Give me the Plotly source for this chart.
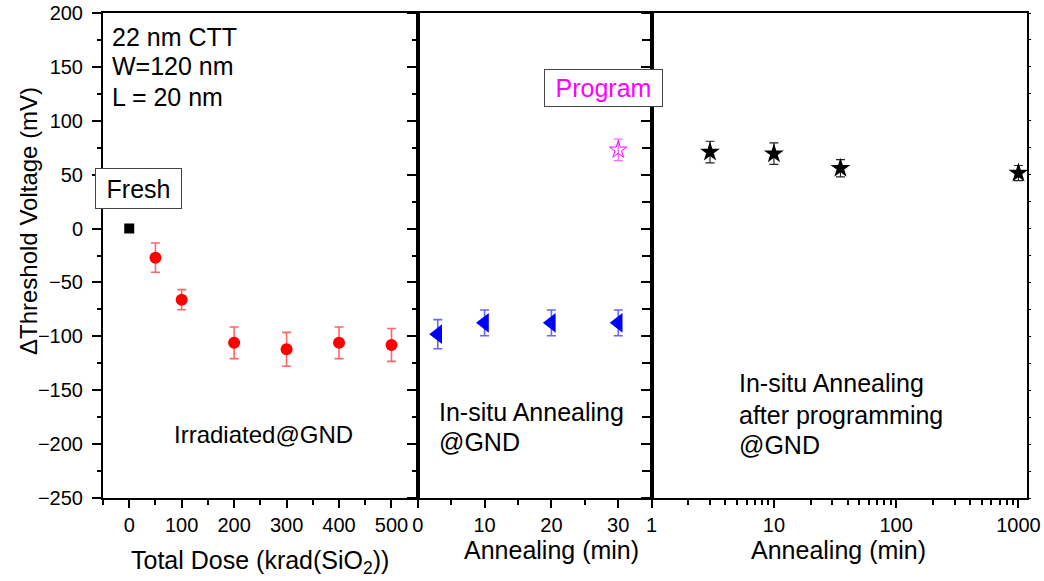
import numpy as np
import plotly.graph_objects as go

FONT = "Liberation Sans, Arial, sans-serif"

# ---- data -------------------------------------------------------------
fresh_dose = [0]
fresh_dvth = [0]

dose = [50, 100, 200, 300, 400, 500]
dvth_irr = [-27, -66, -106, -112, -106, -108]
err_irr = [13.6, 9.3, 14.7, 15.7, 14.7, 15.2]

anneal_t = [3, 10, 20, 30]
dvth_anneal = [-98, -87.5, -87.5, -87.5]
err_anneal = [13.5, 12, 12, 12]

prog_t = [30]
dvth_prog = [73]
err_prog = [10]

post_t = [3, 10, 35, 1000]
dvth_post = [71, 69.5, 56, 51.5]
err_post = [10, 10, 8, 7]

# tick labels
dose_ticks = [0, 100, 200, 300, 400, 500]
anneal_ticks = [0, 10, 20, 30]
log_ticks = [1, 10, 100, 1000]
log_minor = [m * d for d in (1, 10, 100) for m in range(2, 10)]

Y_RANGE = [-250, 200]

fig = go.Figure()

# panel 1: irradiation
fig.add_trace(go.Scatter(x=fresh_dose, y=fresh_dvth, mode="markers",
                         marker=dict(symbol="square", size=10, color="black"),
                         xaxis="x", yaxis="y"))
fig.add_trace(go.Scatter(x=dose, y=dvth_irr, mode="markers",
                         marker=dict(symbol="circle", size=12, color="#ff0000"),
                         error_y=dict(type="data", array=err_irr, color="rgba(255,0,0,0.6)",
                                      thickness=1.6, width=4.5),
                         xaxis="x", yaxis="y"))

# panel 2: annealing after irradiation
fig.add_trace(go.Scatter(x=anneal_t, y=dvth_anneal, mode="markers",
                         marker=dict(symbol="triangle-left", size=17, color="#0000ff"),
                         error_y=dict(type="data", array=err_anneal, color="rgba(0,0,255,0.6)",
                                      thickness=1.6, width=4.5),
                         xaxis="x2", yaxis="y2"))
fig.add_trace(go.Scatter(x=prog_t, y=dvth_prog, mode="markers",
                         marker=dict(symbol="star-open", size=13, color="#ff00ff",
                                     line=dict(width=1, color="#ff00ff")),
                         error_y=dict(type="data", array=err_prog, color="rgba(255,0,255,0.6)",
                                      thickness=1.4, width=4.5),
                         xaxis="x2", yaxis="y2"))

# panel 3: annealing after programming (log time)
fig.add_trace(go.Scatter(x=post_t, y=dvth_post, mode="markers",
                         marker=dict(symbol="star", size=15, color="black"),
                         error_y=dict(type="data", array=err_post, color="#222222",
                                      thickness=1.2, width=4.5),
                         xaxis="x3", yaxis="y3"))
# carrier for the short right-hand ticks of panel 3
fig.add_trace(go.Scatter(x=[1], y=[0], mode="markers", marker=dict(opacity=0),
                         xaxis="x3", yaxis="y4", hoverinfo="skip"))

axis_common = dict(showline=True, linecolor="black", linewidth=2, showgrid=False,
                   zeroline=False, tickcolor="black", tickwidth=1.5, automargin=False,
                   tickfont=dict(family=FONT, size=20, color="black"))

d1 = [0, 0.3406]
d2 = [0.3406, 0.5938]
d3 = [0.5938, 1.0]

fig.update_layout(
    width=1044, height=581,
    margin=dict(l=103, r=17, t=13, b=83, autoexpand=False),
    paper_bgcolor="white", plot_bgcolor="white",
    showlegend=False,
    font=dict(family=FONT, color="black"),
    xaxis=dict(domain=d1, range=[-50, 550], anchor="y", mirror=True,
               tickmode="array", tickvals=dose_ticks, ticks="outside", ticklen=8,
               ticklabelstandoff=0,
               minor=dict(dtick=50, tick0=0, ticks="outside", ticklen=5, tickwidth=1.5,
                          tickcolor="black"),
               **axis_common),
    xaxis2=dict(domain=d2, range=[0, 35], anchor="y2", mirror=True,
                tickmode="array", tickvals=anneal_ticks, ticks="outside", ticklen=8,
                ticklabelstandoff=0,
                minor=dict(dtick=5, tick0=0, ticks="outside", ticklen=5, tickwidth=1.5,
                           tickcolor="black"),
                **axis_common),
    xaxis3=dict(domain=d3, type="log", range=[0, 3.07], anchor="y3", mirror=True,
                tickmode="array", tickvals=log_ticks, ticktext=[str(v) for v in log_ticks],
                ticks="outside", ticklen=8, ticklabelstandoff=0,
                minor=dict(tickmode="array", tickvals=log_minor, ticks="outside", ticklen=5,
                           tickwidth=1.5, tickcolor="black"),
                **axis_common),
    yaxis=dict(range=Y_RANGE, anchor="x", mirror=True, dtick=50, tick0=0,
               ticks="outside", ticklen=9, ticklabelstandoff=5,
               minor=dict(dtick=25, tick0=0, ticks="outside", ticklen=4, tickwidth=1.5,
                          tickcolor="black"),
               **axis_common),
    yaxis2=dict(range=Y_RANGE, anchor="x2", mirror=True, dtick=50, tick0=0,
                ticks="outside", ticklen=9, showticklabels=False,
                minor=dict(dtick=25, tick0=0, ticks="outside", ticklen=4, tickwidth=1.5,
                           tickcolor="black"),
                **axis_common),
    yaxis3=dict(range=Y_RANGE, anchor="x3", mirror=True, dtick=50, tick0=0,
                ticks="outside", ticklen=9, showticklabels=False,
                minor=dict(dtick=25, tick0=0, ticks="outside", ticklen=8, tickwidth=1.5,
                           tickcolor="black"),
                **axis_common),
    yaxis4=dict(range=Y_RANGE, anchor="x3", overlaying="y3", side="right",
                showline=False, showgrid=False, zeroline=False, showticklabels=False,
                automargin=False,
                dtick=25, tick0=0, ticks="outside", ticklen=3, tickwidth=1.2,
                tickcolor="black"),
)

ann = []

def text(x, y, s, xref, yref, size=25, color="black", **kw):
    ann.append(dict(x=x, y=y, text=s, xref=xref, yref=yref, showarrow=False,
                    font=dict(family=FONT, size=size, color=color), **kw))

# axis titles
text(0.1699, -0.132, "Total Dose (krad(SiO<sub>2</sub>))", "paper", "paper", size=25,
     xanchor="center", yanchor="middle")
text(0.4859, -0.1072, "Annealing (min)", "paper", "paper", xanchor="center", yanchor="middle")
text(0.7960, -0.1072, "Annealing (min)", "paper", "paper", xanchor="center", yanchor="middle")
text(-0.0812, 0.571, "ΔThreshold Voltage (mV)", "paper", "paper", size=24,
     textangle=-90, xanchor="center", yanchor="middle")

# device description
for yv, s in zip([178, 150.5, 122], ["22 nm CTT", "W=120 nm", "L = 20 nm"]):
    text(-36, yv, s, "x", "y", xanchor="left", yanchor="middle")

# boxed labels
text(17.7, 37.5, "Fresh", "x", "y", width=83, height=37, borderpad=1,
     bordercolor="#444444", borderwidth=1, bgcolor="white", xanchor="center", yanchor="middle")
text(27.8, 130.3, "Program", "x2", "y2", color="#ff00ff", width=115, height=34, borderpad=1,
     bordercolor="#444444", borderwidth=1, bgcolor="white", xanchor="center", yanchor="middle")

# stage descriptions
text(81.6, -191.2, "Irradiated@GND", "x", "y", size=24, xanchor="left", yanchor="middle")
for yv, s in zip([-170.3, -198.1], ["In-situ Annealing", "@GND"]):
    text(2.9, yv, s, "x2", "y2", xanchor="left", yanchor="middle")
for yv, s in zip([-143.3, -172.6, -200.5], ["In-situ Annealing", "after programming", "@GND"]):
    text(np.log10(5.0), yv, s, "x3", "y3", xanchor="left", yanchor="middle")

fig.update_layout(annotations=ann)

fig.write_html("out.html")
